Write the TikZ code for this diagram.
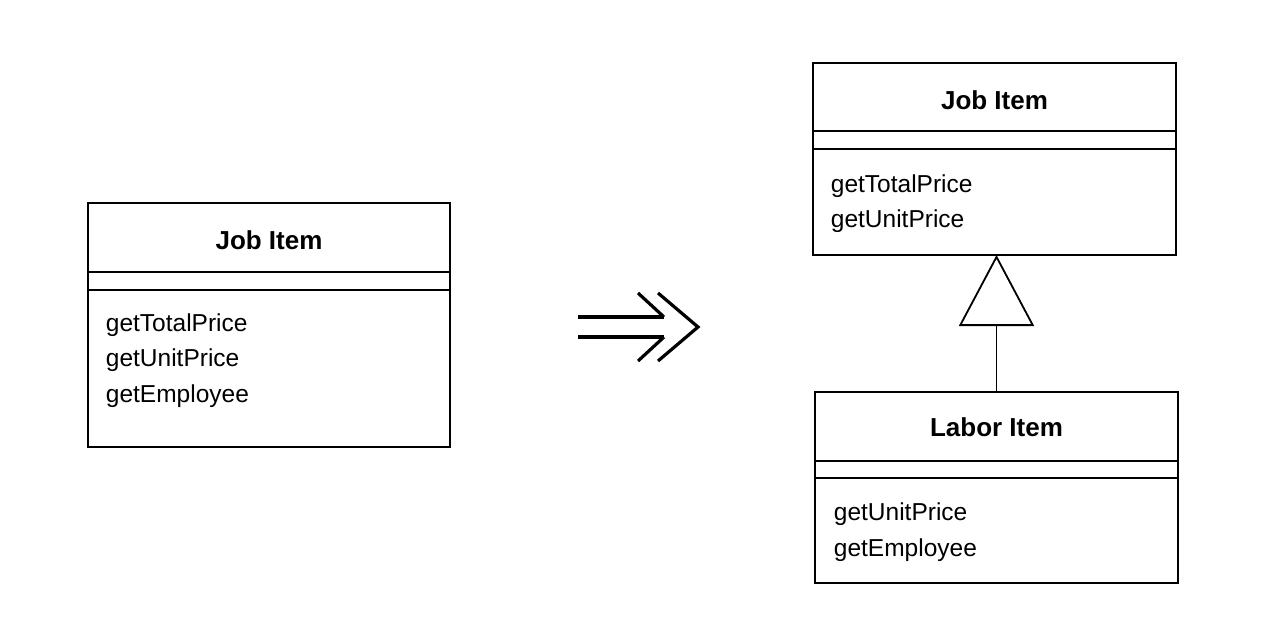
\documentclass[tikz,border=0pt]{standalone}
\usepackage{fontspec}
\setmainfont{Liberation Sans}
\usetikzlibrary{arrows.meta}
\begin{document}
\begin{tikzpicture}[x=1pt,y=-1pt,
  line width=1.8pt,
  classbox/.style={draw, rectangle, anchor=north west, inner sep=0pt, outer sep=0pt},
  title/.style={font=\fontsize{26}{29}\selectfont\bfseries, inner sep=0pt},
  op/.style={font=\fontsize{24.5}{28}\selectfont, anchor=base west, inner sep=0pt},
  refarrow/.style={line width=3.2pt}]
\useasboundingbox (0,0) rectangle (1284,632);
% left class
\node[classbox, minimum width=362pt, minimum height=244pt] (jobA) at (88,203) {};
\draw (88,272) -- (450,272) (88,290) -- (450,290);
\node[title] (jobAt) at (269,240) {Job Item};
\node[op] (a1) at (105,331) {getTotalPrice};
\node[op] (a2) at (105,366) {getUnitPrice};
\node[op] (a3) at (105,402) {getEmployee};
% refactoring arrow
\coordinate (r1) at (578,317);
\coordinate (r2) at (578,337);
\coordinate (r1e) at (664,317);
\coordinate (r2e) at (664,337);
\draw[refarrow] (r1) -- (r1e) (r2) -- (r2e);
\draw[refarrow] (638,293) -- (r1e) (638,361) -- (r2e);
\draw[refarrow] (658,293) -- (698,327) -- (658,361);
% right upper class
\node[classbox, minimum width=363pt, minimum height=192pt] (jobB) at (813,63) {};
\draw (813,131) -- (1176,131) (813,149) -- (1176,149);
\node[title] (jobBt) at (994.5,100) {Job Item};
\node[op] (b1) at (830,192) {getTotalPrice};
\node[op] (b2) at (830,227) {getUnitPrice};
% right lower class
\node[classbox, minimum width=363pt, minimum height=191pt] (lab) at (815,392) {};
\draw (815,461) -- (1178,461) (815,478) -- (1178,478);
\node[title] (labt) at (996.5,427) {Labor Item};
\node[op] (c1) at (833,520) {getUnitPrice};
\node[op] (c2) at (833,556) {getEmployee};
% generalization
\draw[-{Triangle[open, length=71pt, width=75pt, line width=1.8pt]}] (lab.north) -- (lab.north |- jobB.south);
\end{tikzpicture}
\end{document}
